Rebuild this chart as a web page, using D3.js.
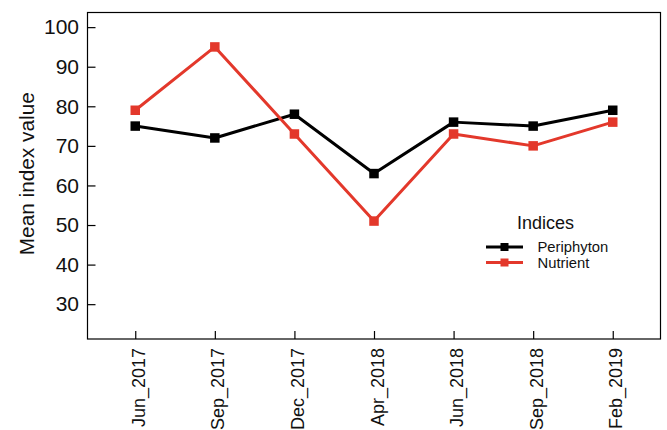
<!DOCTYPE html>
<html>
<head>
<meta charset="utf-8">
<script src="https://cdn.jsdelivr.net/npm/d3@7/dist/d3.min.js"></script>
<style>
  html, body { margin: 0; padding: 0; background: #fff; }
  svg { display: block; font-family: "Liberation Sans", Arial, sans-serif; }
</style>
</head>
<body>
<svg id="chart" width="667" height="430"></svg>
<script>
// Sampling dates (x categories)
const dates = ["Jun_2017", "Sep_2017", "Dec_2017", "Apr_2018", "Jun_2018", "Sep_2018", "Feb_2019"];
// Mean index values per date
const periphyton = [75, 72, 78, 63, 76, 75, 79];
const nutrient   = [79, 95, 73, 51, 73, 70, 76];
const seriesNames = ["Periphyton", "Nutrient"];
const seriesColors = ["#000000", "#e3382b"];
const yTicks = [30, 40, 50, 60, 70, 80, 90, 100];

const series = [
  { name: seriesNames[0], color: seriesColors[0], values: periphyton },
  { name: seriesNames[1], color: seriesColors[1], values: nutrient }
];

const svg = d3.select("#chart");
const panel = { left: 87.5, right: 660.5, top: 12.5, bottom: 339 };

const x = d3.scalePoint().domain(dates).range([panel.left, panel.right]).padding(0.6);
const y = d3.scaleLinear().domain([21.2, 103.7]).range([panel.bottom, panel.top]);

// Panel frame
svg.append("rect")
  .attr("x", panel.left).attr("y", panel.top)
  .attr("width", panel.right - panel.left).attr("height", panel.bottom - panel.top)
  .attr("fill", "none").attr("stroke", "#000").attr("stroke-width", 1.2);

// Y axis: ticks point inward
const yAxis = svg.append("g").attr("transform", `translate(${panel.left},0)`)
  .call(d3.axisLeft(y).tickValues(yTicks).tickSize(-8).tickPadding(8.5));
yAxis.select(".domain").remove();
yAxis.selectAll(".tick line").attr("stroke", "#000").attr("stroke-width", 1.2);
yAxis.selectAll(".tick text")
  .attr("font-size", 21).attr("fill", "#111")
  .attr("font-family", "Liberation Sans, Arial, sans-serif");

// X axis: ticks point inward, labels rotated
const xAxis = svg.append("g").attr("transform", `translate(0,${panel.bottom})`)
  .call(d3.axisBottom(x).tickSize(-8));
xAxis.select(".domain").remove();
xAxis.selectAll(".tick line").attr("stroke", "#000").attr("stroke-width", 1.2);
xAxis.selectAll(".tick text")
  .attr("font-size", 18).attr("fill", "#111")
  .attr("font-family", "Liberation Sans, Arial, sans-serif")
  .attr("text-anchor", "end")
  .attr("transform", "translate(9,9) rotate(-90)")
  .attr("x", 0).attr("y", 0).attr("dy", 0);

// Y axis title
svg.append("text")
  .attr("transform", `translate(34,${(panel.top + panel.bottom) / 2 - 2}) rotate(-90)`)
  .attr("text-anchor", "middle")
  .attr("font-size", 20.8).attr("fill", "#111")
  .text("Mean index value");

// Lines
const line = d3.line().x((d, i) => x(dates[i])).y(d => y(d));
svg.append("g").selectAll("path").data(series).join("path")
  .attr("d", d => line(d.values))
  .attr("fill", "none")
  .attr("stroke", d => d.color)
  .attr("stroke-width", 3)
  .attr("stroke-linejoin", "round");

// Square markers
const ms = 9.5;
series.forEach(s => {
  svg.append("g").selectAll("rect").data(s.values).join("rect")
    .attr("x", (d, i) => x(dates[i]) - ms / 2)
    .attr("y", d => y(d) - ms / 2)
    .attr("width", ms).attr("height", ms)
    .attr("fill", s.color);
});

// Legend
const lg = svg.append("g");
lg.append("text").attr("x", 517).attr("y", 228.5)
  .attr("font-size", 18).attr("fill", "#111").text("Indices");
series.forEach((s, i) => {
  const ly = 247 + i * 15.5;
  lg.append("line").attr("x1", 486).attr("x2", 523).attr("y1", ly).attr("y2", ly)
    .attr("stroke", s.color).attr("stroke-width", 3);
  lg.append("rect").attr("x", 504.5 - 4).attr("y", ly - 4).attr("width", 8).attr("height", 8)
    .attr("fill", s.color);
  lg.append("text").attr("x", 537.5).attr("y", ly + 5)
    .attr("font-size", 14.8).attr("fill", "#111").text(s.name);
});
</script>
</body>
</html>
